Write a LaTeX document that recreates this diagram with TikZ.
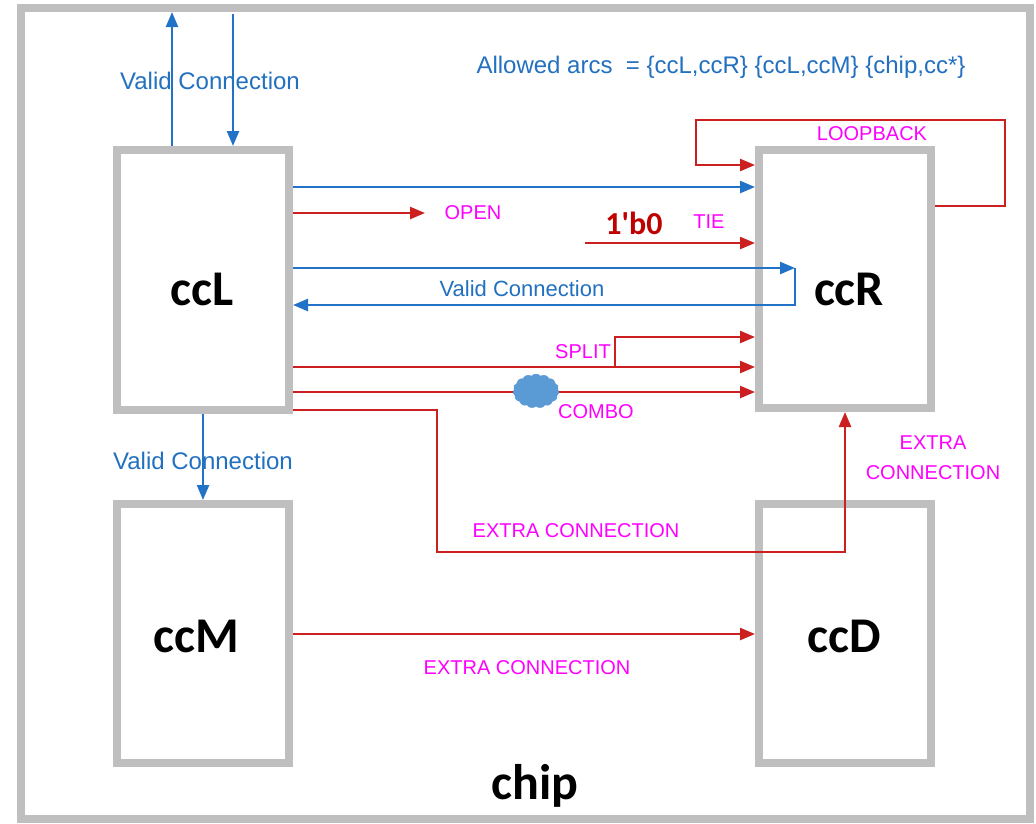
\documentclass[tikz,border=0pt]{standalone}
\usepackage{fontspec}
\setmainfont{Liberation Sans}
\newfontfamily\carlito{Carlito}
\usetikzlibrary{arrows.meta,shapes.symbols}
\definecolor{framegray}{HTML}{BFBFBF}
\definecolor{lineblue}{HTML}{2273C8}
\definecolor{linered}{HTML}{CC1F1F}
\definecolor{txtblue}{HTML}{2270C0}
\definecolor{txtmag}{HTML}{FF00FF}
\definecolor{darkred}{HTML}{C00000}
\definecolor{cloudblue}{HTML}{5B9BD5}
\begin{document}
\begin{tikzpicture}[x=1pt,y=-1pt,
  box/.style={draw=framegray,line width=8pt,minimum width=172pt,inner sep=0pt},
  bl/.style={draw=lineblue,line width=2.4pt,-{Triangle[length=15pt,width=12pt]}},
  rd/.style={draw=linered,line width=2.4pt,-{Triangle[length=15pt,width=12pt]}},
  bluetext/.style={text=txtblue,font=\fontsize{24}{28}\selectfont,inner sep=0pt},
  magtext/.style={text=txtmag,font=\fontsize{20}{24}\selectfont,inner sep=0pt,align=center},
  bigtext/.style={font=\carlito\bfseries\fontsize{50}{54}\selectfont,inner sep=0pt}]
\useasboundingbox (0,0) rectangle (1036,823);
\fill[white] (0,0) rectangle (1036,823);
% chip frame
\node[draw=framegray,line width=8pt,minimum width=1009pt,minimum height=811pt,inner sep=0pt,outer sep=0pt] (chipframe) at (525.5,413.5) {};
% boxes
\node[box,minimum height=260pt] (ccL) at (203,280) {};
\node[box,minimum height=258pt] (ccR) at (845,279) {};
\node[box,minimum height=259pt] (ccM) at (203,633.5) {};
\node[box,minimum height=259pt] (ccD) at (845,633.5) {};
% box labels
\node[bigtext] (tccL) at (202,289) {ccL};
\node[bigtext] (tccR) at (849,289) {ccR};
\node[bigtext] (tccM) at (196,636) {ccM};
\node[bigtext] (tccD) at (844,636) {ccD};
\node[bigtext,anchor=base] (tchip) at (535,799) {chip};
% top valid connection
\coordinate (topup) at (172,12);
\coordinate (topdown) at (233,14);
\draw[bl] (ccL.north -| 172,0) -- (topup);
\draw[bl] (topdown) -- (ccL.north -| 233,0);
\node[bluetext] (lvtop) at (210,81) {Valid Connection};
% allowed arcs
\node[bluetext] (lallowed) at (721,67) {Allowed arcs \ = \{ccL,ccR\} \{ccL,ccM\} \{chip,cc*\}};
% ccL -> ccR blue
\draw[bl] (ccL.east |- 0,187) -- (ccR.west |- 0,187);
% OPEN
\coordinate (openend) at (425,213);
\draw[rd] (ccL.east |- 0,213) -- (openend);
\node[magtext] (lopen) at (473,213) {OPEN};
% TIE
\node[font=\carlito\bfseries\fontsize{32}{36}\selectfont,text=darkred,inner sep=0pt] (tieval) at (634,223) {1'b0};
\node[magtext] (ltie) at (709,222) {TIE};
\coordinate (tiestart) at (585,243);
\draw[rd] (tiestart) -- (ccR.west |- 0,243);
% valid connection loop
\coordinate (vcturn) at (795,268);
\draw[bl] (ccL.east |- 0,268) -- (vcturn);
\draw[bl] (vcturn) -- (795,305) -- (ccL.east |- 0,305);
\node[bluetext,font=\fontsize{22}{26}\selectfont] (lvmid) at (522,289) {Valid Connection};
% SPLIT
\draw[rd] (ccL.east |- 0,367) -- (ccR.west |- 0,367);
\coordinate (splitpt) at (615,367);
\draw[rd] (splitpt) -- (615,337) -- (ccR.west |- 0,337);
\node[magtext] (lsplit) at (583,352) {SPLIT};
% COMBO
\draw[rd] (ccL.east |- 0,392) -- (ccR.west |- 0,392);
\node[cloud,cloud puffs=15,cloud puff arc=100,aspect=1.3,fill=cloudblue,draw=cloudblue,minimum width=46pt,minimum height=34pt,inner sep=0pt] (cloudblob) at (536,391) {};
\node[magtext] (lcombo) at (596,412) {COMBO};
% extra connection ccL -> ccR
\draw[rd] (ccL.east |- 0,410) -- (437,410) -- (437,552) -- (845,552) -- (ccR.south -| 845,0);
\node[magtext] (lextra1) at (576,531) {EXTRA CONNECTION};
\node[magtext] (lextra2) at (933,458) {EXTRA\\[6pt]CONNECTION};
% ccM -> ccD
\draw[rd] (ccM.east |- 0,634) -- (ccD.west |- 0,634);
\node[magtext] (lextra3) at (527,668) {EXTRA CONNECTION};
% LOOPBACK
\draw[rd] (ccR.east |- 0,206) -- (1005,206) -- (1005,120) -- (696,120) -- (696,165) -- (ccR.west |- 0,165);
\node[magtext] (lloop) at (872,134) {LOOPBACK};
% ccL -> ccM valid
\draw[bl] (ccL.south -| 203,0) -- (ccM.north -| 203,0);
\node[bluetext] (lvbot) at (203,461) {Valid Connection};
\end{tikzpicture}
\end{document}
